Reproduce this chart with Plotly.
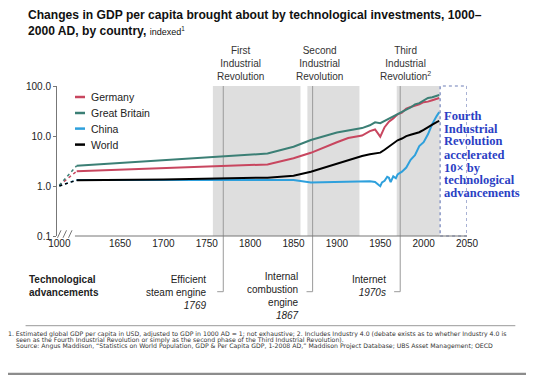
import plotly.graph_objects as go

# ---------------- data ----------------
years = [1600, 1700, 1820, 1850, 1870, 1900, 1913, 1929, 1938, 1944, 1950, 1955,
         1960, 1965, 1970, 1975, 1980, 1985, 1990, 1995, 2000, 2005, 2010, 2015, 2018]
germany = [1.98, 2.28, 2.70, 3.58, 4.61, 7.48, 9.14, 10.2, 12.5, 13.5, 9.7, 15.0,
           19.3, 22.5, 27.2, 29.4, 35.4, 37.9, 39.9, 43.1, 47.5, 48.7, 52.0, 55.5, 57.5]
great_britain = [2.54, 3.26, 4.45, 6.08, 8.33, 11.7, 12.8, 14.4, 16.4, 18.8, 18.1, 20.2,
                 22.6, 25.0, 28.1, 30.5, 33.8, 37.2, 42.9, 45.5, 51.7, 57.8, 59.5, 63.5, 66.0]
world = [1.31, 1.35, 1.47, 1.60, 1.92, 2.78, 3.36, 3.98, 4.30, 4.50, 4.65, 5.30,
         6.10, 7.10, 8.20, 8.90, 9.96, 10.6, 11.3, 11.9, 13.3, 15.3, 16.9, 19.0, 20.0]
china_years = [1600, 1700, 1820, 1850, 1870, 1900, 1913, 1929, 1938, 1944, 1950, 1952,
               1955, 1958, 1960, 1962, 1965, 1968, 1970, 1975, 1978, 1980, 1985, 1990,
               1995, 2000, 2005, 2010, 2015, 2018]
china = [1.32, 1.32, 1.32, 1.32, 1.17, 1.20, 1.22, 1.24, 1.24, 1.20, 0.99, 1.18,
         1.27, 1.53, 1.46, 1.20, 1.56, 1.43, 1.71, 1.93, 2.16, 2.34, 3.35, 4.12,
         6.28, 7.54, 10.8, 17.5, 25.0, 30.0]
base_year = 1000
base_germany, base_gb, base_china, base_world = 1.03, 1.04, 1.0, 1.0

tick_years = [1000, 1650, 1700, 1750, 1800, 1850, 1900, 1950, 2000, 2050]
y_ticks = [0.1, 1, 10, 100]
y_tick_text = ["0.1", "1.0", "10.0", "100.0"]

revolutions = [("First<br>Industrial<br>Revolution", 1757, 1858),
               ("Second<br>Industrial<br>Revolution", 1866, 1926),
               ("Third<br>Industrial<br>Revolution<sup>2</sup>", 1969, 2018.5)]
fourth_range = (2019, 2050)
tech_marks = [1769, 1872, 1973]

# ---------------- layout helpers (screen px -> paper) ----------------
OFF = 8  # default page body margin
W, H = 534 - OFF, 375 - OFF
L, R, T, B = 57 - OFF, 67.3, 85.7 - OFF, 139.3
PW, PH = W - L - R, H - T - B
BREAK_POS = 1580
X_RANGE = [1577.3, 2050]

def xpos(yr):
    return yr if yr >= 1600 else BREAK_POS

def pxx(xp):
    return (xp - OFF - L) / PW

def pxy(yp):
    return (H - B - (yp - OFF)) / PH

C_DE, C_GB, C_CN, C_W = "#c8465f", "#3b7f75", "#2ea0dc", "#000000"

fig = go.Figure()
series = [("Germany", years, germany, base_germany, C_DE),
          ("Great Britain", years, great_britain, base_gb, C_GB),
          ("China", china_years, china, base_china, C_CN),
          ("World", years, world, base_world, C_W)]

for name, yrs, vals, base, col in series:
    fig.add_trace(go.Scatter(x=[xpos(base_year), xpos(yrs[0])], y=[base, vals[0]],
                             mode="lines", line=dict(color=col, width=1.5, dash="dot"),
                             showlegend=False, hoverinfo="skip"))
for name, yrs, vals, base, col in [series[2], series[0], series[1], series[3]]:
    fig.add_trace(go.Scatter(x=[xpos(y) for y in yrs], y=vals, mode="lines", name=name,
                             line=dict(color=col, width=2), showlegend=False))

shapes = []
for label, a, b in revolutions:
    shapes.append(dict(type="rect", xref="x", yref="paper", x0=a, x1=b, y0=0, y1=1,
                       fillcolor="#dedede", line=dict(width=0), layer="below"))
bottom_y = pxy(291.4)
for m in tech_marks:
    shapes.append(dict(type="line", xref="x", yref="paper", x0=m, x1=m, y0=1, y1=bottom_y,
                       line=dict(color="#9a9a9a", width=1), layer="below"))
    shapes.append(dict(type="line", xref="x", yref="paper", x0=m - 7, x1=m, y0=bottom_y, y1=bottom_y,
                       line=dict(color="#9a9a9a", width=1), layer="below"))
shapes.append(dict(type="rect", xref="x", yref="paper", x0=fourth_range[0], x1=fourth_range[1],
                   y0=0, y1=1, line=dict(color="#6f7fb8", width=1.2, dash="dot"),
                   fillcolor="rgba(0,0,0,0)", layer="above"))
# x axis line (with break)
shapes.append(dict(type="line", xref="x", yref="paper", x0=1598, x1=2050, y0=0, y1=0,
                   line=dict(color="#777", width=1)))
# break marks
for x0 in [57.5, 63, 68.5]:
    shapes.append(dict(type="line", xref="paper", yref="paper", x0=pxx(x0), x1=pxx(x0 + 3.5),
                       y0=pxy(237.5), y1=pxy(230), line=dict(color="#777", width=1)))
# legend samples
legend_rows = [("Germany", C_DE, 96.7), ("Great Britain", C_GB, 112.7),
               ("China", C_CN, 128.3), ("World", C_W, 144.3)]
for name, col, yy in legend_rows:
    shapes.append(dict(type="line", xref="paper", yref="paper", x0=pxx(75), x1=pxx(85),
                       y0=pxy(yy), y1=pxy(yy), line=dict(color=col, width=2.5)))
# footnote separator and bottom bar
shapes.append(dict(type="line", xref="paper", yref="paper", x0=pxx(25.6), x1=pxx(515),
                   y0=pxy(325.4), y1=pxy(325.4), line=dict(color="#999", width=1)))
shapes.append(dict(type="rect", xref="paper", yref="paper", x0=pxx(0), x1=pxx(534),
                   y0=pxy(372.5), y1=pxy(376), fillcolor="#8c8c8c", line=dict(width=0)))

ann = []
FONT = "Liberation Sans, Arial, sans-serif"
def txt(text, xp, yp, size=10, color="#222", xanchor="left", yanchor="middle", family=FONT):
    ann.append(dict(text=text, xref="paper", yref="paper", x=pxx(xp), y=pxy(yp),
                    xanchor=xanchor, yanchor=yanchor, showarrow=False,
                    align=xanchor if xanchor != "center" else "center",
                    font=dict(size=size, color=color, family=family)))

txt("<b>Changes in GDP per capita brought about by technological investments, 1000–</b><br>"
    "<b>2000 AD, by country,</b> <span style='font-size:9px'>indexed<sup>1</sup></span>",
    26, 22.3, size=12.1, color="#111")

for name, col, yy in legend_rows:
    txt(name, 89, yy, size=10.5, color="#222")

rev_centers = [240, 319.3, 405.7]
for (label, a, b), cx in zip(revolutions, rev_centers):
    txt(label, cx, 63.3, size=10, color="#333", xanchor="center")

fourth_lines = ["Fourth", "Industrial", "Revolution", "accelerated", "10× by",
                "technological", "advancements"]
fy = [116, 128.7, 141, 154.3, 167.3, 180, 192.7]
for line, yy in zip(fourth_lines, fy):
    txt("<b>" + line + "</b>", 441.5, yy, size=12.5, color="#2b3fc4",
        family="Liberation Serif, Georgia, serif")

txt("<b>Technological<br>advancements</b>", 26.6, 286.1, size=10, color="#222")
txt("Efficient<br>steam engine<br><i>1769</i>", 208, 292.4, size=10, color="#222", xanchor="right")
txt("Internal<br>combustion<br>engine<br><i>1867</i>", 301, 295.6, size=10, color="#222", xanchor="right")
txt("Internet<br><i>1970s</i>", 388, 286.1, size=10, color="#222", xanchor="right")

foot = [("1. Estimated global GDP per capita in USD, adjusted to GDP in 1000 AD = 1; not exhaustive; 2. Includes Industry 4.0 (debate exists as to whether Industry 4.0 is", 6, 333.2),
        ("seen as the Fourth Industrial Revolution or simply as the second phase of the Third Industrial Revolution).", 13.7, 339.4),
        ("Source: Angus Maddison, “Statistics on World Population, GDP & Per Capita GDP, 1-2008 AD,” Maddison Project Database; UBS Asset Management; OECD", 13.7, 345.8)]
for t, xx, yy in foot:
    txt(t, xx, yy, size=6.2, color="#333", family="DejaVu Sans, sans-serif")

fig.update_layout(
    width=W, height=H, margin=dict(l=L, r=R, t=T, b=B, autoexpand=False),
    paper_bgcolor="white", plot_bgcolor="white", showlegend=False,
    font=dict(family=FONT, size=10, color="#222"),
    shapes=shapes, annotations=ann, hovermode=False,
    xaxis=dict(range=X_RANGE, tickvals=[xpos(y) for y in tick_years],
               ticktext=[str(y) for y in tick_years], showgrid=False, zeroline=False,
               showline=False, ticks="", tickfont=dict(size=10, color="#222")),
    yaxis=dict(type="log", range=[-1, 2], tickvals=y_ticks, ticktext=y_tick_text,
               showgrid=False, zeroline=False, showline=True, linecolor="#777", linewidth=1,
               ticks="outside", ticklen=3, tickcolor="#777", tickfont=dict(size=10, color="#222")),
)

fig.write_html("out.html")
